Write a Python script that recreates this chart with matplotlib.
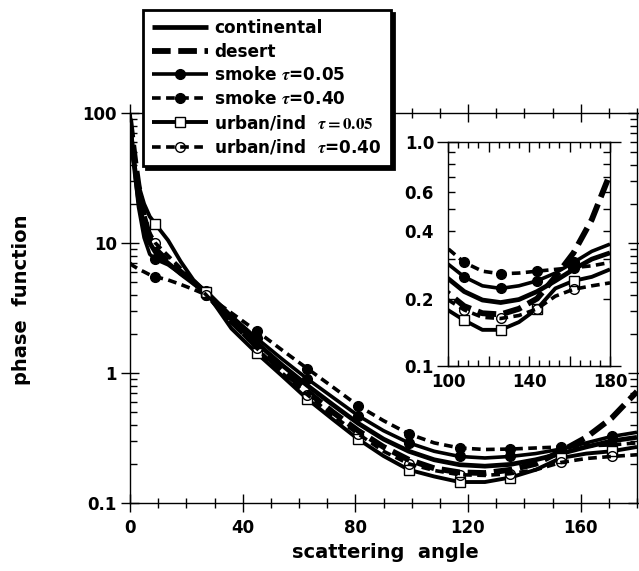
import matplotlib
matplotlib.use('Agg')
import matplotlib.pyplot as plt
from matplotlib.ticker import FixedLocator, MultipleLocator, LogLocator, NullFormatter

plt.rcParams['font.family'] = 'DejaVu Sans'
plt.rcParams['font.weight'] = 'bold'
plt.rcParams['mathtext.fontset'] = 'stix'

# scattering angle grid (deg)
angle = [0, 1, 2, 3, 5, 7, 9, 13.5, 18, 22.5, 27, 36, 45, 54, 63, 72, 81, 90,
         99, 108, 117, 126, 135, 144, 153, 162, 171, 180]

continental = [80, 50, 32, 22, 13, 10, 8.5, 7.0, 5.8, 4.9, 4.2, 2.6, 1.7, 1.15, 0.80,
               0.57, 0.41, 0.31, 0.25, 0.215, 0.197, 0.192, 0.198, 0.215, 0.24, 0.27,
               0.30, 0.32]
desert = [90, 60, 40, 28, 16, 11, 9.0, 7.2, 6.0, 5.0, 4.1, 2.5, 1.6, 1.05, 0.72,
          0.50, 0.36, 0.27, 0.215, 0.185, 0.172, 0.17, 0.18, 0.20, 0.25, 0.32,
          0.45, 0.72]
smoke_05 = [100, 55, 30, 19, 11, 8.2, 7.5, 6.8, 5.8, 5.0, 4.3, 2.75, 1.85, 1.28, 0.90,
            0.65, 0.47, 0.36, 0.29, 0.25, 0.228, 0.222, 0.228, 0.24, 0.26, 0.29,
            0.325, 0.35]
smoke_40 = [7.0, 6.7, 6.5, 6.3, 6.0, 5.7, 5.5, 5.2, 4.8, 4.4, 4.0, 2.9, 2.1, 1.5, 1.08,
            0.78, 0.56, 0.43, 0.34, 0.29, 0.265, 0.258, 0.26, 0.265, 0.27, 0.275,
            0.28, 0.29]
urban_05 = [60, 45, 35, 28, 20, 16, 14, 10.5, 7.2, 5.2, 4.2, 2.2, 1.42, 0.95, 0.63,
            0.44, 0.31, 0.23, 0.18, 0.16, 0.145, 0.145, 0.157, 0.18, 0.222, 0.24,
            0.25, 0.27]
urban_40 = [70, 50, 36, 27, 17, 12, 10, 8.0, 6.4, 5.0, 4.0, 2.45, 1.55, 1.0, 0.68,
            0.47, 0.34, 0.25, 0.20, 0.178, 0.165, 0.163, 0.168, 0.18, 0.205, 0.22,
            0.228, 0.235]

labels = ['continental', 'desert', r'smoke $\tau$=0.05', r'smoke $\tau$=0.40',
          r'urban/ind  $\tau{=}\mathrm{0.05}$', r'urban/ind  $\tau$=0.40']
series = [continental, desert, smoke_05, smoke_40, urban_05, urban_40]

main_marks = [6, 10, 12, 14, 16, 18, 20, 22, 24, 26]
inset_marks = [19, 21, 23, 25]

styles = [
    dict(ls='-', lw=3.4, marker=None),
    dict(ls=(0, (3.2, 1.3)), lw=4.2, marker=None),
    dict(ls='-', lw=2.6, marker='o', ms=7, mfc='black', mec='black'),
    dict(ls=(0, (2.4, 1.5)), lw=2.6, marker='o', ms=7, mfc='black', mec='black'),
    dict(ls='-', lw=2.8, marker='s', ms=7.5, mfc='white', mec='black', mew=1.0),
    dict(ls=(0, (2.4, 1.5)), lw=2.6, marker='o', ms=7, mfc='none', mec='black', mew=1.0),
]


def draw(ax, marks):
    lines = []
    for vals, st, lab in zip(series, styles, labels):
        ln, = ax.plot(angle, vals, color='black', label=lab, markevery=marks,
                      solid_capstyle='butt', dash_capstyle='butt', **st)
        lines.append(ln)
    return lines


fig = plt.figure(figsize=(6.39, 5.71), dpi=100)

# main axes
ax = fig.add_axes([130 / 639, 1 - 503 / 571, 507 / 639, 390 / 571])
lines = draw(ax, main_marks)
ax.set_yscale('log')
ax.set_xlim(0, 180)
ax.set_ylim(0.1, 100)
ax.set_xticks([0, 40, 80, 120, 160])
ax.xaxis.set_minor_locator(MultipleLocator(10))
ax.set_yticks([0.1, 1, 10, 100])
ax.set_yticklabels(['0.1', '1', '10', '100'])
ax.yaxis.set_minor_locator(LogLocator(base=10, subs=range(2, 10)))
ax.yaxis.set_minor_formatter(NullFormatter())
ax.tick_params(which='major', direction='inout', length=13, width=1,
               top=True, right=True, labelsize=12)
ax.tick_params(axis='x', which='minor', direction='inout', length=7, width=1, top=True)
ax.tick_params(axis='y', which='minor', direction='in', length=5, width=1, right=True)
ax.tick_params(axis='x', which='major', pad=5)
ax.tick_params(axis='y', which='major', pad=3)
for s in ax.spines.values():
    s.set_linewidth(1)

leg = ax.legend(handles=lines, loc='upper left',
                bbox_to_anchor=(143 / 639, 1 - 10 / 571),
                bbox_transform=fig.transFigure, borderaxespad=0,
                fontsize=12.2, handlelength=3.3, handletextpad=0.35,
                labelspacing=0.32, borderpad=0.55, fancybox=False,
                framealpha=1, edgecolor='black',
                shadow={'color': 'black', 'alpha': 1})
leg.get_frame().set_linewidth(2)

# inset of the backscatter region
ax2 = fig.add_axes([448 / 639, 1 - 366 / 571, 162 / 639, 224 / 571])
ax2.set_facecolor('white')
draw(ax2, inset_marks)
ax2.set_yscale('log')
ax2.set_xlim(100, 180)
ax2.set_ylim(0.1, 1.0)
ax2.set_xticks([100, 120, 140, 160, 180])
ax2.set_xticklabels(['100', '', '140', '', '180'])
ax2.xaxis.set_minor_locator(MultipleLocator(5))
ax2.yaxis.set_major_locator(FixedLocator([0.1, 1.0]))
ax2.set_yticklabels(['0.1', '1.0'])
ax2.yaxis.set_minor_locator(FixedLocator([0.2, 0.3, 0.4, 0.5, 0.6, 0.7, 0.8, 0.9]))
ax2.yaxis.set_minor_formatter(
    lambda v, p: {0.2: '0.2', 0.4: '0.4', 0.6: '0.6'}.get(round(v, 1), ''))
ax2.tick_params(axis='x', which='major', direction='in', length=7, width=1,
                top=True, labelsize=12, pad=5)
ax2.tick_params(axis='x', which='minor', direction='in', length=4, width=1, top=True)
ax2.tick_params(axis='y', which='major', direction='inout', length=16, width=1,
                right=True, labelsize=12, pad=2)
ax2.tick_params(axis='y', which='minor', direction='in', length=5, width=1,
                right=True, labelsize=12, pad=10)
for s in ax2.spines.values():
    s.set_linewidth(1)

fig.text(22 / 639, 1 - 300 / 571, 'phase  function', rotation=90,
         ha='center', va='center', fontsize=14, fontweight='bold')
fig.text(385 / 639, 1 - 553 / 571, 'scattering  angle',
         ha='center', va='center', fontsize=14, fontweight='bold')

fig.savefig('out.png', dpi=100)
